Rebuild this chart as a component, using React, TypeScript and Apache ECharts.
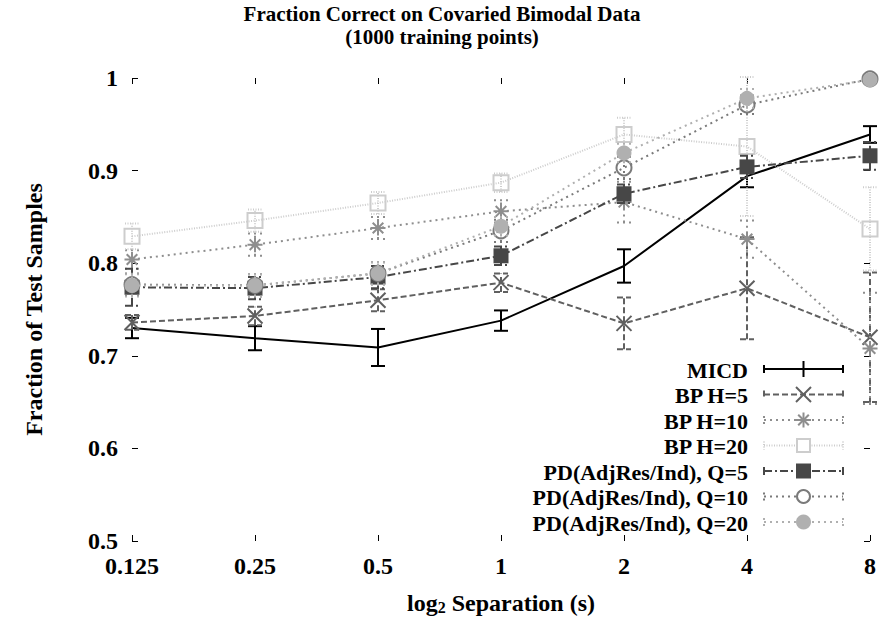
import React, { useEffect, useRef } from "react";
import * as echarts from "echarts";

// Separation values (log2 spaced categories)
const separations = ["0.125", "0.25", "0.5", "1", "2", "4", "8"];

// Fraction correct per method, with error-bar half widths
const micd = [0.73, 0.719, 0.709, 0.738, 0.797, 0.894, 0.939];
const micdErr = [0.011, 0.013, 0.02, 0.011, 0.018, 0.012, 0.009];

const bpH5 = [0.736, 0.743, 0.76, 0.779, 0.735, 0.773, 0.72];
const bpH5Err = [0.008, 0.01, 0.012, 0.01, 0.028, 0.055, 0.07];

const bpH10 = [0.804, 0.82, 0.838, 0.856, 0.866, 0.826, 0.708];
const bpH10Err = [0.01, 0.012, 0.012, 0.012, 0.022, 0.02, 0.06];

const bpH20 = [0.829, 0.846, 0.865, 0.887, 0.939, 0.926, 0.837];
const bpH20Err = [0.014, 0.012, 0.012, 0.01, 0.018, 0.075, 0.045];

const pdQ5 = [0.774, 0.773, 0.785, 0.808, 0.875, 0.904, 0.916];
const pdQ5Err = [0.02, 0.012, 0.012, 0.01, 0.01, 0.012, 0.015];

const pdQ10 = [0.777, 0.776, 0.789, 0.835, 0.903, 0.971, 0.999];
const pdQ10Err = [0.012, 0.012, 0.012, 0.012, 0.012, 0.01, 0.001];

const pdQ20 = [0.776, 0.776, 0.789, 0.84, 0.919, 0.978, 0.998];
const pdQ20Err = [0.012, 0.012, 0.012, 0.01, 0.01, 0.01, 0.001];

type Marker = "none" | "cross" | "star" | "openSquare" | "square" | "openCircle" | "circle";

interface SeriesDef {
  name: string;
  values: number[];
  errors: number[];
  color: string;
  dash: number[] | "solid";
  marker: Marker;
}

const seriesDefs: SeriesDef[] = [
  { name: "MICD", values: micd, errors: micdErr, color: "#000000", dash: "solid", marker: "none" },
  { name: "BP H=5", values: bpH5, errors: bpH5Err, color: "#606060", dash: [6, 3], marker: "cross" },
  { name: "BP H=10", values: bpH10, errors: bpH10Err, color: "#8e8e8e", dash: [2, 4], marker: "star" },
  { name: "BP H=20", values: bpH20, errors: bpH20Err, color: "#cdcdcd", dash: [1, 1.5], marker: "openSquare" },
  { name: "PD(AdjRes/Ind), Q=5", values: pdQ5, errors: pdQ5Err, color: "#474747", dash: [8, 3, 2, 3], marker: "square" },
  { name: "PD(AdjRes/Ind), Q=10", values: pdQ10, errors: pdQ10Err, color: "#7a7a7a", dash: [2, 4], marker: "openCircle" },
  { name: "PD(AdjRes/Ind), Q=20", values: pdQ20, errors: pdQ20Err, color: "#b0b0b0", dash: [2, 4], marker: "circle" },
];

const FONT = "'Liberation Serif', 'Times New Roman', serif";
const MARK = 15;

function symbolFor(m: Marker): string {
  switch (m) {
    case "cross":
      return "path://M0,0L10,10M10,0L0,10";
    case "star":
      return "path://M5,0L5,10M0,5L10,5M1.46,1.46L8.54,8.54M8.54,1.46L1.46,8.54";
    case "openSquare":
      return "path://M0,0L10,0L10,10L0,10Z";
    case "square":
      return "rect";
    case "openCircle":
    case "circle":
      return "circle";
    default:
      return "none";
  }
}

function itemStyleFor(d: SeriesDef) {
  const filled = d.marker === "square" || d.marker === "circle";
  return filled
    ? { color: d.color, borderWidth: 0 }
    : { color: "none", borderColor: d.color, borderWidth: 2 };
}

// Key entry marker drawn with graphic primitives
function legendMarker(d: SeriesDef, cx: number, cy: number): any[] {
  const h = MARK / 2;
  const stroke = { stroke: d.color, lineWidth: 2, fill: "none" };
  switch (d.marker) {
    case "cross":
      return [
        { type: "line", shape: { x1: cx - h, y1: cy - h, x2: cx + h, y2: cy + h }, style: stroke },
        { type: "line", shape: { x1: cx + h, y1: cy - h, x2: cx - h, y2: cy + h }, style: stroke },
      ];
    case "star": {
      const k = h * 0.707;
      return [
        { type: "line", shape: { x1: cx, y1: cy - h, x2: cx, y2: cy + h }, style: stroke },
        { type: "line", shape: { x1: cx - h, y1: cy, x2: cx + h, y2: cy }, style: stroke },
        { type: "line", shape: { x1: cx - k, y1: cy - k, x2: cx + k, y2: cy + k }, style: stroke },
        { type: "line", shape: { x1: cx + k, y1: cy - k, x2: cx - k, y2: cy + k }, style: stroke },
      ];
    }
    case "openSquare":
      return [{ type: "rect", shape: { x: cx - h + 1, y: cy - h + 1, width: MARK - 2, height: MARK - 2 }, style: { ...stroke, fill: "#fff" } }];
    case "square":
      return [{ type: "rect", shape: { x: cx - h, y: cy - h, width: MARK, height: MARK }, style: { fill: d.color } }];
    case "openCircle":
      return [{ type: "circle", shape: { cx, cy, r: h - 1 }, style: { ...stroke, fill: "#fff" } }];
    case "circle":
      return [{ type: "circle", shape: { cx, cy, r: h }, style: { fill: d.color } }];
    default:
      return [{ type: "line", shape: { x1: cx, y1: cy - 8, x2: cx, y2: cy + 8 }, style: { stroke: d.color, lineWidth: 2 } }];
  }
}

function buildLegend(): any[] {
  const textRight = 748;
  const x1 = 764;
  const x2 = 843;
  const top = 369;
  const step = 25.5;
  const out: any[] = [];
  seriesDefs.forEach((d, i) => {
    const y = top + i * step;
    const dash = d.dash === "solid" ? null : d.dash;
    const ls = { stroke: d.color, lineWidth: 2, lineDash: dash };
    out.push({
      type: "text",
      x: textRight,
      y: y + 1,
      style: { text: d.name, align: "right", verticalAlign: "middle", font: `bold 22px ${FONT}`, fill: "#000" },
    });
    out.push({ type: "line", shape: { x1, y1: y, x2, y2: y }, style: ls });
    out.push({ type: "line", shape: { x1, y1: y - 4, x2: x1, y2: y + 4 }, style: ls });
    out.push({ type: "line", shape: { x1: x2, y1: y - 4, x2, y2: y + 4 }, style: ls });
    legendMarker(d, (x1 + x2) / 2, y).forEach((g) => out.push(g));
  });
  return out;
}

const axisTick = { show: true, inside: true, length: 6, interval: 0, lineStyle: { color: "#000", width: 1 } };
const labelStyle = { fontFamily: FONT, fontWeight: "bold" as const, fontSize: 24, color: "#000" };

export default function App() {
  const ref = useRef<HTMLDivElement>(null);

  useEffect(() => {
    if (!ref.current) return;
    const chart = echarts.init(ref.current, null, { renderer: "svg" });

    const series: any[] = [];
    seriesDefs.forEach((d, idx) => {
      const lineType = d.dash === "solid" ? "solid" : d.dash;
      const barDash = d.dash === "solid" ? null : d.dash;
      series.push({
        type: "custom",
        name: d.name + " error",
        xAxisIndex: 0,
        yAxisIndex: 0,
        silent: true,
        z: 2 + idx * 2,
        data: d.values.map((v, i) => [i, v - d.errors[i], v + d.errors[i]]),
        renderItem: (_params: any, api: any) => {
          const x = api.value(0);
          const lo = api.coord([x, api.value(1)]);
          const hi = api.coord([x, api.value(2)]);
          const w = 7;
          const style = { stroke: d.color, lineWidth: 2, lineDash: barDash, fill: "none" };
          return {
            type: "group",
            children: [
              { type: "line", shape: { x1: lo[0], y1: lo[1], x2: hi[0], y2: hi[1] }, style },
              { type: "line", shape: { x1: lo[0] - w, y1: lo[1], x2: lo[0] + w, y2: lo[1] }, style },
              { type: "line", shape: { x1: hi[0] - w, y1: hi[1], x2: hi[0] + w, y2: hi[1] }, style },
            ],
          };
        },
      });
      series.push({
        type: "line",
        name: d.name,
        xAxisIndex: 0,
        yAxisIndex: 0,
        silent: true,
        z: 3 + idx * 2,
        data: d.values,
        symbol: symbolFor(d.marker),
        symbolSize: MARK,
        showSymbol: d.marker !== "none",
        lineStyle: { color: d.color, width: 2, type: lineType },
        itemStyle: itemStyleFor(d),
        emphasis: { disabled: true },
      });
    });

    chart.setOption({
      animation: false,
      backgroundColor: "#ffffff",
      title: {
        text: "Fraction Correct on Covaried Bimodal Data\n(1000 training points)",
        left: "center",
        top: 2,
        padding: 0,
        textStyle: { fontFamily: FONT, fontWeight: "bold", fontSize: 21, lineHeight: 23, color: "#000" },
      },
      grid: { left: 132, right: 14, top: 78, bottom: 80, containLabel: false, outerBoundsMode: "none" },
      xAxis: [
        {
          type: "category",
          data: separations,
          boundaryGap: false,
          position: "bottom",
          axisLine: { show: false },
          axisTick,
          splitLine: { show: false },
          axisLabel: { ...labelStyle, margin: 13, interval: 0 },
          name: "log{sub|2} Separation (s)",
          nameLocation: "middle",
          nameGap: 50,
          nameTextStyle: {
            ...labelStyle,
            lineHeight: 24,
            rich: {
              sub: { fontFamily: FONT, fontWeight: "bold", fontSize: 16, lineHeight: 18, verticalAlign: "bottom", padding: [8, 0, 0, 0] },
            },
          },
        },
        {
          type: "category",
          data: separations,
          boundaryGap: false,
          position: "top",
          axisLine: { show: false },
          axisTick,
          axisLabel: { show: false },
          splitLine: { show: false },
        },
      ],
      yAxis: [
        {
          type: "value",
          min: 0.5,
          max: 1,
          interval: 0.1,
          axisLine: { show: false },
          axisTick,
          splitLine: { show: false },
          axisLabel: {
            ...labelStyle,
            margin: 14,
            formatter: (v: number) => (Math.abs(v - 1) < 1e-9 ? "1" : v.toFixed(1)),
          },
          name: "Fraction of Test Samples",
          nameLocation: "middle",
          nameGap: 86,
          nameTextStyle: labelStyle,
        },
        {
          type: "value",
          min: 0.5,
          max: 1,
          interval: 0.1,
          position: "right",
          axisLine: { show: false },
          axisTick,
          axisLabel: { show: false },
          splitLine: { show: false },
        },
      ],
      series,
      graphic: buildLegend(),
    });

    return () => chart.dispose();
  }, []);

  return (
    <div
      ref={ref}
      style={{ position: "fixed", left: 0, top: 0, width: 884, height: 621, background: "#fff" }}
    />
  );
}
